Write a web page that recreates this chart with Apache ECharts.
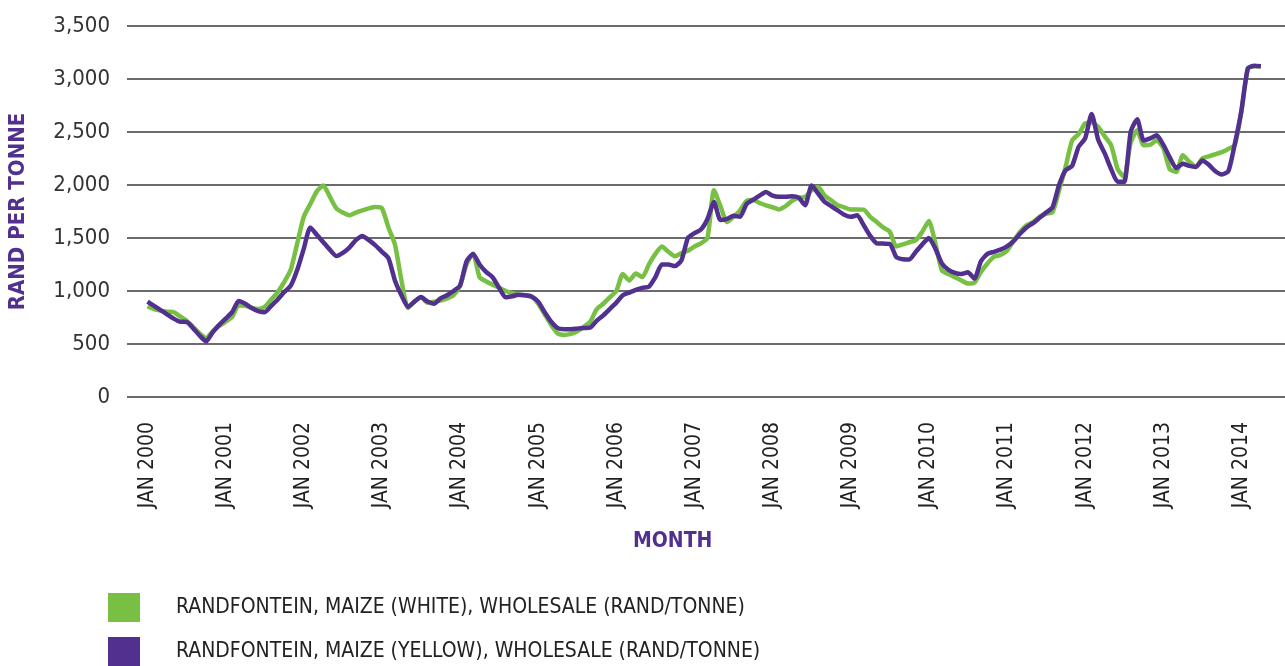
<!DOCTYPE html>
<html>
<head>
<meta charset="utf-8">
<script src="https://cdn.jsdelivr.net/npm/echarts@6/dist/echarts.min.js"></script>
<style>
  html, body { margin: 0; padding: 0; background: #fff; }
  #chart { width: 1285px; height: 666px; }
</style>
</head>
<body>
<div id="chart"></div>
<script>
  // monthly prices, Jan 2000 .. Apr 2014 (rand per tonne)
  const whiteMaize = [
    855, 830, 815, 805, 800, 760, 720, 660, 600, 555, 620, 670,
    710, 755, 865, 860, 840, 830, 850, 920, 990, 1085, 1200, 1450,
    1700, 1820, 1940, 1995, 1890, 1780, 1740, 1714, 1740, 1760, 1780, 1792,
    1780, 1600, 1440, 1100, 840, 900, 940, 890, 900, 910, 930, 960,
    1050, 1250, 1352, 1130, 1090, 1060, 1030, 1000, 980, 965, 960, 950,
    880, 780, 680, 600, 585, 595, 620, 660, 710, 830, 880, 940,
    1000, 1160, 1100, 1164, 1132, 1250, 1350, 1420, 1370, 1327, 1358, 1380,
    1420, 1450, 1500, 1950, 1800, 1651, 1700, 1760, 1849, 1860, 1830, 1808,
    1790, 1770, 1800, 1850, 1880, 1887, 1950, 1981, 1900, 1856, 1810, 1790,
    1768, 1770, 1768, 1700, 1650, 1600, 1560, 1420, 1440, 1460, 1478, 1560,
    1660, 1450, 1195, 1160, 1130, 1100, 1070, 1080, 1180, 1260, 1321, 1340,
    1380, 1470, 1557, 1620, 1650, 1700, 1730, 1745, 1950, 2170, 2420, 2480,
    2580, 2590, 2549, 2460, 2375, 2150, 2076, 2400, 2516, 2375, 2380, 2421,
    2350, 2150, 2123, 2280, 2220, 2170, 2250, 2271, 2290, 2310, 2340, 2380,
    2690, 3100, 3120, 3120
  ];
  const yellowMaize = [
    900, 860, 820, 780, 740, 710, 708, 650, 580, 525, 610, 680,
    740, 800, 905, 880, 840, 810, 800, 860, 920, 990, 1050, 1200,
    1400, 1600, 1530, 1460, 1390, 1330, 1360, 1410, 1480, 1520, 1480, 1430,
    1370, 1310, 1100, 960, 850, 900, 943, 900, 880, 930, 960, 1000,
    1050, 1280, 1350, 1250, 1180, 1130, 1030, 940, 950, 965, 960, 945,
    900, 800, 710, 650, 640, 640, 645, 650, 655, 720, 770, 830,
    890, 960, 985, 1010, 1030, 1040, 1130, 1250, 1250, 1235, 1290, 1500,
    1545, 1580, 1680, 1840, 1670, 1680, 1710, 1700, 1820, 1860, 1900, 1935,
    1900, 1890, 1890, 1895, 1880, 1810, 1995, 1920, 1840, 1800, 1760, 1720,
    1700, 1714, 1620, 1520, 1450, 1447, 1445, 1320, 1300, 1296, 1370, 1440,
    1500, 1400, 1260, 1200, 1170, 1160, 1176, 1117, 1280, 1350, 1370, 1390,
    1420, 1470, 1540, 1600, 1640, 1690, 1740, 1790, 2000, 2140, 2180, 2360,
    2440, 2670, 2430, 2300, 2150, 2030, 2030, 2500, 2620, 2420, 2440, 2469,
    2380, 2260, 2160, 2200, 2180, 2170, 2230, 2190, 2130, 2100, 2130, 2390,
    2700, 3100, 3125, 3120
  ];
  const startYear = 2000;
  const tickYears = [2000, 2001, 2002, 2003, 2004, 2005, 2006, 2007,
                     2008, 2009, 2010, 2011, 2012, 2013, 2014];
  const yTicks = [0, 500, 1000, 1500, 2000, 2500, 3000, 3500];
  const seriesNames = [
    'RANDFONTEIN, MAIZE (WHITE), WHOLESALE (RAND/TONNE)',
    'RANDFONTEIN, MAIZE (YELLOW), WHOLESALE (RAND/TONNE)'
  ];

  const font = "'DejaVu Sans Condensed', sans-serif";
  const green = '#77c043';
  const purple = '#52308f';

  const toPoints = arr => arr.map((v, i) => [i, v]);
  const tickMonths = tickYears.map(y => (y - startYear) * 12);

  let chart = echarts.init(document.getElementById('chart'));
  let option = {
    animation: false,
    backgroundColor: '#fff',
    grid: { left: 127, right: 0, top: 26, height: 371, outerBoundsMode: 'none' },
    legend: {
      orient: 'vertical',
      left: 108,
      top: 593,
      padding: 0,
      itemWidth: 32,
      itemHeight: 29,
      itemGap: 15,
      icon: 'rect',
      data: seriesNames,
      textStyle: { fontFamily: font, fontSize: 21, color: '#222', padding: [2, 0, 0, 31] }
    },
    xAxis: {
      type: 'value',
      min: -3.15,
      max: 174.7,
      axisLine: { show: false },
      axisTick: { show: false },
      splitLine: { show: false },
      axisLabel: {
        customValues: tickMonths,
        rotate: 90,
        margin: 25,
        fontFamily: font,
        fontSize: 21,
        color: '#222',
        formatter: v => 'JAN ' + (startYear + Math.round(v / 12))
      }
    },
    yAxis: {
      type: 'value',
      min: yTicks[0],
      max: yTicks[yTicks.length - 1],
      interval: 500,
      name: 'RAND PER TONNE',
      nameLocation: 'middle',
      nameGap: 98,
      nameTextStyle: { fontFamily: font, fontSize: 22, fontWeight: 'bold', color: purple },
      axisLine: { show: false },
      axisTick: { show: false },
      splitLine: { lineStyle: { color: '#3a3a3a', width: 1.5 } },
      axisLabel: {
        margin: 17,
        fontFamily: font,
        fontSize: 22,
        color: '#333',
        formatter: v => v.toLocaleString('en-US')
      }
    },
    graphic: [{
      type: 'text',
      left: 633,
      top: 531,
      style: { text: 'MONTH', fontFamily: font, fontSize: 21, fontWeight: 'bold', fill: purple }
    }],
    series: [
      {
        name: seriesNames[0],
        type: 'line',
        data: toPoints(whiteMaize),
        smooth: 0.2,
        showSymbol: false,
        itemStyle: { color: green },
        lineStyle: { color: green, width: 4.5 }
      },
      {
        name: seriesNames[1],
        type: 'line',
        data: toPoints(yellowMaize),
        smooth: 0.2,
        showSymbol: false,
        itemStyle: { color: purple },
        lineStyle: { color: purple, width: 4.5 }
      }
    ]
  };
  chart.setOption(option);
</script>
</body>
</html>
